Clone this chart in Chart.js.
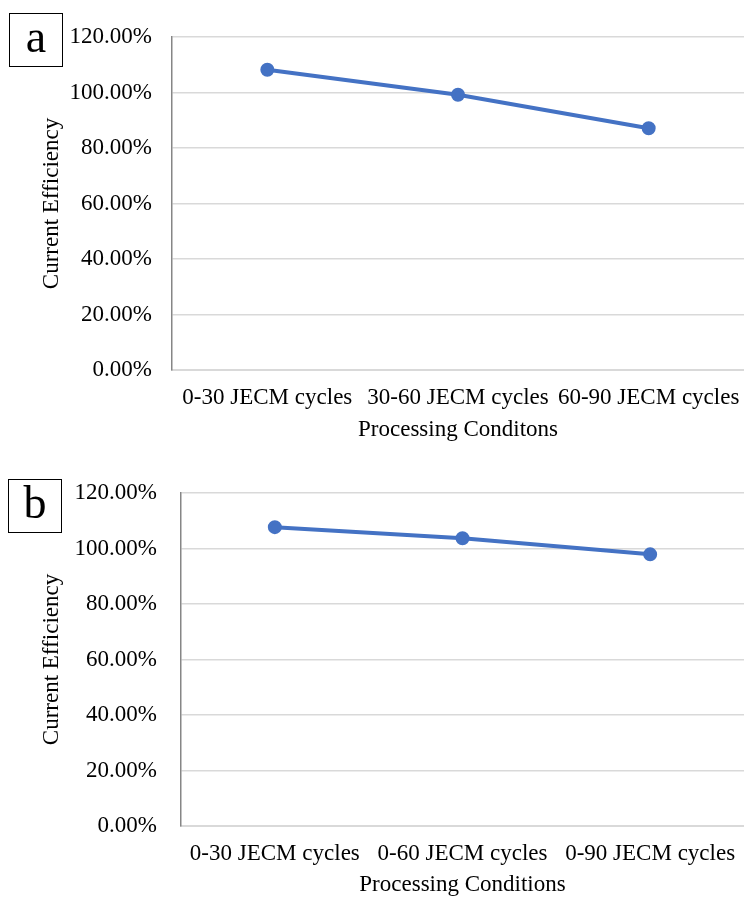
<!DOCTYPE html>
<html>
<head>
<meta charset="utf-8">
<script src="https://cdn.jsdelivr.net/npm/chart.js@4"></script>
<style>
  body { margin: 0; background: #fff; }
  .panel { position: absolute; left: 0; width: 744px; }
  .tag {
    position: absolute; width: 52px; height: 52px;
    border: 1.5px solid #000; background: #fff;
    font-family: "Liberation Serif", serif; font-size: 46px;
    line-height: 46px; text-align: center; color: #000; z-index: 2;
  }
</style>
</head>
<body>
<div class="panel" style="top:0;height:450px"><canvas id="chart-a"></canvas></div>
<div class="panel" style="top:450px;height:449px"><canvas id="chart-b"></canvas></div>
<div class="tag" style="left:9px;top:13px">a</div>
<div class="tag" style="left:8px;top:479px">b</div>
<script>
// values, in percent
const labelsA = ["0-30 JECM cycles", "30-60 JECM cycles", "60-90 JECM cycles"];
const valuesA = [108.2, 99.2, 87.1];
const labelsB = ["0-30 JECM cycles", "0-60 JECM cycles", "0-90 JECM cycles"];
const valuesB = [107.7, 103.7, 97.9];
const yTicks = [0, 20, 40, 60, 80, 100, 120];

const blue = "#4472C4";
const grid = "#d9d9d9";
const font = { family: "Liberation Serif", size: 23 };

function makeChart(id, labels, values, xTitle, s) {
  return new Chart(document.getElementById(id), {
    type: "line",
    data: {
      labels: labels,
      datasets: [{
        data: values,
        borderColor: blue,
        backgroundColor: blue,
        borderWidth: 4,
        pointRadius: 5,
        pointHoverRadius: 5,
        tension: 0,
      }],
    },
    options: {
      responsive: true,
      maintainAspectRatio: false,
      animation: false,
      layout: { autoPadding: false, padding: { top: s.top, left: 0, right: 0, bottom: 0 } },
      scales: {
        x: {
          offset: true,
          grid: { display: false, drawTicks: false },
          border: { color: grid, width: 2 },
          ticks: { color: "#000", font: font, padding: s.xPad, maxRotation: 0, autoSkip: false },
          title: { display: true, text: xTitle, color: "#000", font: font, padding: { top: 0, bottom: s.xTitlePad } },
          afterFit: (sc) => {
            sc.height = s.xHeight;
            sc.paddingLeft = 0;
            sc.paddingRight = 0;
          },
        },
        y: {
          min: 0,
          max: 120,
          afterBuildTicks: (sc) => { sc.ticks = yTicks.map(v => ({ value: v })); },
          grid: { color: grid, lineWidth: 1.5, drawTicks: false },
          border: { color: "#868686", width: 1.5 },
          ticks: { color: "#000", font: font, padding: s.yPad, callback: v => v.toFixed(2) + "%" },
          title: { display: true, text: "Current Efficiency", color: "#000", font: font, padding: { top: 38, bottom: 0 } },
          afterFit: (sc) => { sc.width = s.yWidth; },
        },
      },
      plugins: {
        legend: { display: false },
        tooltip: { enabled: false },
      },
    },
  });
}

makeChart("chart-a", labelsA, valuesA, "Processing Conditons",
  { top: 37, xHeight: 80, xPad: 14, xTitlePad: 6, yWidth: 172, yPad: 20 });
makeChart("chart-b", labelsB, valuesB, "Processing Conditions",
  { top: 43, xHeight: 73, xPad: 14, xTitlePad: 0, yWidth: 181, yPad: 24 });
</script>
</body>
</html>
